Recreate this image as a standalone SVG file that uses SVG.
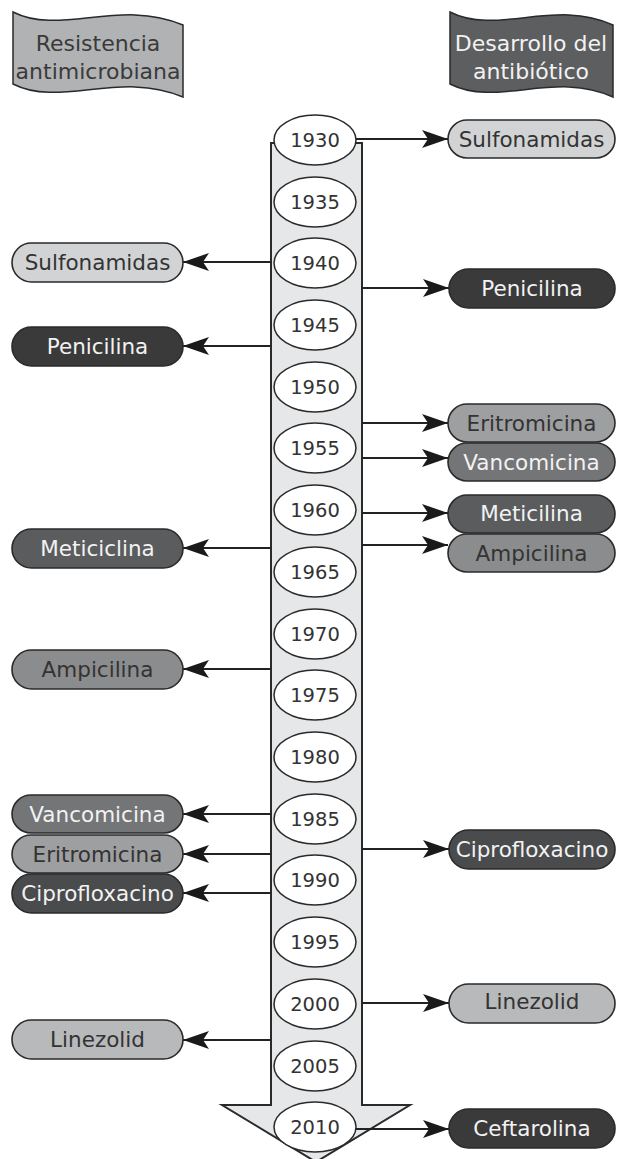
<svg xmlns="http://www.w3.org/2000/svg" width="617" height="1159" viewBox="0 0 617 1159">
<style>
text{font-family:"DejaVu Sans","Liberation Sans",sans-serif;text-anchor:middle}
.yr{font-size:19.5px;fill:#333}
.lbl{font-size:21.5px}
.dk{fill:#f2f2f2}
.lt{fill:#333}
.pill{stroke:#2a2a2a;stroke-width:1.6}
.ell{fill:#fff;stroke:#2a2a2a;stroke-width:1.5}
.con{stroke:#222;stroke-width:2;fill:none;marker-end:url(#ah)}
.ban{stroke:#2a2a2a;stroke-width:1.5}
.bt{font-size:22px}
</style>
<defs>
<marker id="ah" viewBox="-27 -11 28 22" refX="0" refY="0" markerWidth="28" markerHeight="22" markerUnits="userSpaceOnUse" orient="auto">
<path d="M0,0 L-26,-9 L-20,0 L-26,9 Z" fill="#1a1a1a"/>
</marker>
</defs>
<rect width="617" height="1159" fill="#fff"/>

<g id="banner-resistencia">
<path class="ban" fill="#b1b2b4" d="M13,12 C60,36 120,-2 183,25 L183,97 C120,70 60,108 13,84 Z"/>
<text class="bt" x="98" y="51" fill="#3a3a3a">Resistencia</text>
<text class="bt" x="98" y="79" fill="#3a3a3a">antimicrobiana</text>
</g>
<g id="banner-desarrollo">
<path class="ban" fill="#5d5e60" d="M450,12 C497,36 555,-2 613,25 L613,97 C555,70 497,108 450,84 Z"/>
<text class="bt" x="531" y="51" fill="#f2f2f2">Desarrollo del</text>
<text class="bt" x="531" y="79" fill="#f2f2f2">antibiótico</text>
</g>

<g id="timeline-arrow">
<path d="M271,143 L362,143 L362,1105 L410,1105 L316,1162 L222,1105 L271,1105 Z" fill="#e6e7e8" stroke="#2a2a2a" stroke-width="2" stroke-linejoin="miter"/>
</g>

<g id="connectors">
<line class="con" x1="355" y1="139" x2="448" y2="139"/>
<line class="con" x1="362" y1="288" x2="449" y2="288"/>
<line class="con" x1="362" y1="423" x2="448" y2="423"/>
<line class="con" x1="362" y1="458" x2="448" y2="458"/>
<line class="con" x1="362" y1="513" x2="448" y2="513"/>
<line class="con" x1="362" y1="545" x2="448" y2="545"/>
<line class="con" x1="362" y1="849" x2="449" y2="849"/>
<line class="con" x1="362" y1="1003" x2="449" y2="1003"/>
<line class="con" x1="355" y1="1129" x2="449" y2="1129"/>
<line class="con" x1="271" y1="262" x2="183" y2="262"/>
<line class="con" x1="271" y1="346" x2="183" y2="346"/>
<line class="con" x1="271" y1="548" x2="183" y2="548"/>
<line class="con" x1="271" y1="669" x2="183" y2="669"/>
<line class="con" x1="271" y1="814" x2="183" y2="814"/>
<line class="con" x1="271" y1="854" x2="183" y2="854"/>
<line class="con" x1="271" y1="893" x2="183" y2="893"/>
<line class="con" x1="271" y1="1040" x2="183" y2="1040"/>
</g>

<g id="year-1930"><ellipse class="ell" cx="315" cy="140" rx="41" ry="25"/><text class="yr" x="315" y="147">1930</text></g>
<g id="year-1935"><ellipse class="ell" cx="315" cy="202" rx="41" ry="25"/><text class="yr" x="315" y="209">1935</text></g>
<g id="year-1940"><ellipse class="ell" cx="315" cy="263" rx="41" ry="25"/><text class="yr" x="315" y="270">1940</text></g>
<g id="year-1945"><ellipse class="ell" cx="315" cy="325" rx="41" ry="25"/><text class="yr" x="315" y="332">1945</text></g>
<g id="year-1950"><ellipse class="ell" cx="315" cy="387" rx="41" ry="25"/><text class="yr" x="315" y="394">1950</text></g>
<g id="year-1955"><ellipse class="ell" cx="315" cy="448" rx="41" ry="25"/><text class="yr" x="315" y="455">1955</text></g>
<g id="year-1960"><ellipse class="ell" cx="315" cy="510" rx="41" ry="25"/><text class="yr" x="315" y="517">1960</text></g>
<g id="year-1965"><ellipse class="ell" cx="315" cy="572" rx="41" ry="25"/><text class="yr" x="315" y="579">1965</text></g>
<g id="year-1970"><ellipse class="ell" cx="315" cy="634" rx="41" ry="25"/><text class="yr" x="315" y="641">1970</text></g>
<g id="year-1975"><ellipse class="ell" cx="315" cy="695" rx="41" ry="25"/><text class="yr" x="315" y="702">1975</text></g>
<g id="year-1980"><ellipse class="ell" cx="315" cy="757" rx="41" ry="25"/><text class="yr" x="315" y="764">1980</text></g>
<g id="year-1985"><ellipse class="ell" cx="315" cy="819" rx="41" ry="25"/><text class="yr" x="315" y="826">1985</text></g>
<g id="year-1990"><ellipse class="ell" cx="315" cy="880" rx="41" ry="25"/><text class="yr" x="315" y="887">1990</text></g>
<g id="year-1995"><ellipse class="ell" cx="315" cy="942" rx="41" ry="25"/><text class="yr" x="315" y="949">1995</text></g>
<g id="year-2000"><ellipse class="ell" cx="315" cy="1004" rx="41" ry="25"/><text class="yr" x="315" y="1011">2000</text></g>
<g id="year-2005"><ellipse class="ell" cx="315" cy="1066" rx="41" ry="25"/><text class="yr" x="315" y="1073">2005</text></g>
<g id="year-2010"><ellipse class="ell" cx="315" cy="1127" rx="41" ry="25"/><text class="yr" x="315" y="1134">2010</text></g>

<g id="dev-sulfonamidas"><rect class="pill" x="448" y="120" width="167" height="38" rx="19" fill="#d2d3d5"/><text class="lbl lt" x="531.5" y="146.5">Sulfonamidas</text></g>
<g id="dev-penicilina"><rect class="pill" x="449" y="269" width="166" height="39" rx="19.5" fill="#3a3a3b"/><text class="lbl dk" x="532" y="295.5">Penicilina</text></g>
<g id="dev-eritromicina"><rect class="pill" x="448" y="404" width="167" height="38" rx="19" fill="#9e9fa1"/><text class="lbl lt" x="531.5" y="430.5">Eritromicina</text></g>
<g id="dev-vancomicina"><rect class="pill" x="448" y="443" width="167" height="38" rx="19" fill="#747577"/><text class="lbl dk" x="531.5" y="469.5">Vancomicina</text></g>
<g id="dev-meticilina"><rect class="pill" x="448" y="495" width="167" height="38" rx="19" fill="#5b5c5e"/><text class="lbl dk" x="531.5" y="521">Meticilina</text></g>
<g id="dev-ampicilina"><rect class="pill" x="448" y="534" width="167" height="38" rx="19" fill="#8b8c8e"/><text class="lbl lt" x="531.5" y="560.5">Ampicilina</text></g>
<g id="dev-ciprofloxacino"><rect class="pill" x="449" y="830" width="166" height="39" rx="19.5" fill="#4a4b4c"/><text class="lbl dk" x="532" y="856.5">Ciprofloxacino</text></g>
<g id="dev-linezolid"><rect class="pill" x="449" y="984" width="166" height="39" rx="19.5" fill="#b8b9bb"/><text class="lbl lt" x="532" y="1009">Linezolid</text></g>
<g id="dev-ceftarolina"><rect class="pill" x="449" y="1109" width="166" height="39" rx="19.5" fill="#3a3a3b"/><text class="lbl dk" x="532" y="1136">Ceftarolina</text></g>

<g id="res-sulfonamidas"><rect class="pill" x="12" y="243" width="171" height="39" rx="19.5" fill="#d2d3d5"/><text class="lbl lt" x="97.5" y="270">Sulfonamidas</text></g>
<g id="res-penicilina"><rect class="pill" x="12" y="327" width="171" height="39" rx="19.5" fill="#3a3a3b"/><text class="lbl dk" x="97.5" y="354">Penicilina</text></g>
<g id="res-meticiclina"><rect class="pill" x="12" y="529" width="171" height="39" rx="19.5" fill="#5b5c5e"/><text class="lbl dk" x="97.5" y="556">Meticiclina</text></g>
<g id="res-ampicilina"><rect class="pill" x="12" y="650" width="171" height="39" rx="19.5" fill="#8b8c8e"/><text class="lbl lt" x="97.5" y="677">Ampicilina</text></g>
<g id="res-vancomicina"><rect class="pill" x="12" y="795" width="171" height="38" rx="19" fill="#747577"/><text class="lbl dk" x="97.5" y="821.5">Vancomicina</text></g>
<g id="res-eritromicina"><rect class="pill" x="12" y="835" width="171" height="38" rx="19" fill="#9e9fa1"/><text class="lbl lt" x="97.5" y="861.5">Eritromicina</text></g>
<g id="res-ciprofloxacino"><rect class="pill" x="12" y="874" width="171" height="39" rx="19.5" fill="#4a4b4c"/><text class="lbl dk" x="97.5" y="901">Ciprofloxacino</text></g>
<g id="res-linezolid"><rect class="pill" x="12" y="1020" width="171" height="39" rx="19.5" fill="#b8b9bb"/><text class="lbl lt" x="97.5" y="1047">Linezolid</text></g>
</svg>
